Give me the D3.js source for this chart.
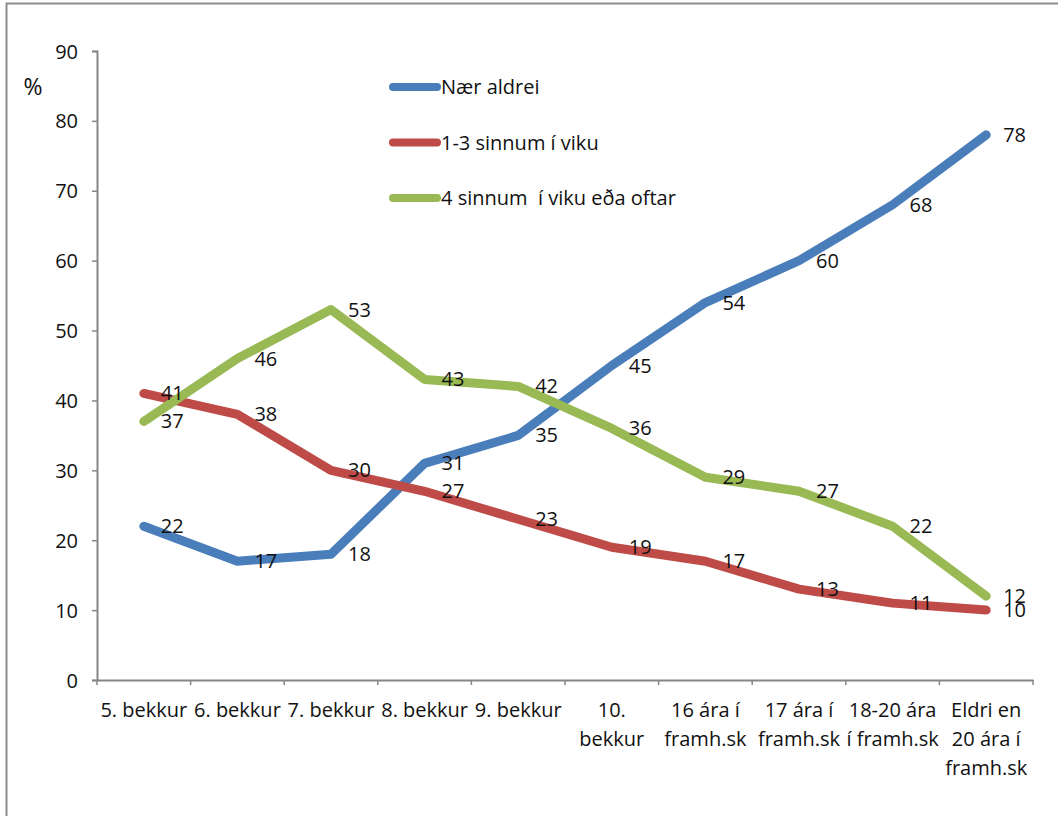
<!DOCTYPE html>
<html>
<head>
<meta charset="utf-8">
<script src="https://cdn.jsdelivr.net/npm/d3@7"></script>
<style>
  body { margin: 0; background: #fff; }
  svg text { font-family: "Open Sans", "DejaVu Sans", sans-serif; fill: #111; }
</style>
</head>
<body>
<div id="chart"></div>
<script>
// categories (x axis), "|" marks a line break in the tick label
var categories = ["5. bekkur", "6. bekkur", "7. bekkur", "8. bekkur", "9. bekkur",
    "10.|bekkur", "16 ára í|framh.sk", "17 ára í|framh.sk", "18-20 ára|í framh.sk", "Eldri en|20 ára í|framh.sk"];

var seriesNames = ["Nær aldrei", "1-3 sinnum í viku", "4 sinnum  í viku eða oftar"];
var naerAldrei = [22, 17, 18, 31, 35, 45, 54, 60, 68, 78];
var einnTilThrisvar = [41, 38, 30, 27, 23, 19, 17, 13, 11, 10];
var fjorumSinnum = [37, 46, 53, 43, 42, 36, 29, 27, 22, 12];
var yTicks = [0, 10, 20, 30, 40, 50, 60, 70, 80, 90];

var colors = ["#4a7ebb", "#be4b48", "#98b954"];
var seriesValues = [naerAldrei, einnTilThrisvar, fjorumSinnum];

var W = 1058, H = 816;
var svg = d3.select('#chart').append('svg').attr("width", W).attr("height", H),
    margin = { top: 51, right: 25, bottom: 136, left: 97 },
    width = 1033 - margin.left,
    height = 680 - margin.top,
    g = svg.append("g").attr("transform", "translate(" + margin.left + "," + margin.top + ")");

// outer frame (only left and top edges are visible in the picture)
svg.append("path").attr("d", "M6.5,816 V3.5 H1058").attr("fill", "none")
    .attr("stroke", "#8c8c8c").attr("stroke-width", 2);

var x = d3.scaleBand().domain(categories).range([0, width]);
var y = d3.scaleLinear().domain([0, 90]).range([height, 0]);

// y axis
var yAxis = g.append("g")
    .call(d3.axisLeft(y).tickValues(yTicks).tickSize(5).tickPadding(14));
yAxis.selectAll("text").attr("font-size", "20px").attr("dy", "0.35em");

// x axis
var xAxis = g.append("g")
    .attr("transform", "translate(0," + height + ")")
    .call(d3.axisBottom(x).tickSize(0).tickFormat(""));
xAxis.selectAll(".tick").remove();
xAxis.selectAll(".xtick")
    .data(d3.range(categories.length + 1))
    .enter().append("line")
    .attr("x1", function (i) { return i * x.step(); })
    .attr("x2", function (i) { return i * x.step(); })
    .attr("y1", 0).attr("y2", 5);

[yAxis, xAxis].forEach(function (ax) {
    ax.select(".domain").attr("stroke", "#868686").attr("stroke-width", 2);
    ax.selectAll("line").attr("stroke", "#868686").attr("stroke-width", 1.5);
});

var xLabels = g.append("g").selectAll("text")
    .data(categories)
    .enter().append("text")
    .attr("text-anchor", "middle")
    .attr("font-size", "20px")
    .attr("transform", function (d) { return "translate(" + (x(d) + x.bandwidth() / 2) + "," + (height + 30) + ")"; });
xLabels.selectAll("tspan")
    .data(function (d) { return d.split("|"); })
    .enter().append("tspan")
    .attr("x", 0)
    .attr("y", function (d, i) { return i * 29; })
    .attr("dy", "0.35em")
    .text(function (d) { return d; });

// % label
svg.append("text").attr("x", 33).attr("y", 87).attr("dy", "0.35em")
    .attr("text-anchor", "middle").attr("font-size", "23px").text("%");

// lines
var line = d3.line()
    .x(function (d, i) { return x(categories[i]) + x.bandwidth() / 2; })
    .y(function (d) { return y(d); });

seriesValues.forEach(function (vals, s) {
    g.append("path")
        .datum(vals)
        .attr("fill", "none")
        .attr("stroke", colors[s])
        .attr("stroke-width", 9)
        .attr("stroke-linecap", "round")
        .attr("stroke-linejoin", "round")
        .attr("d", line);
});

// data labels (to the right of each point)
seriesValues.forEach(function (vals, s) {
    g.append("g").selectAll("text")
        .data(vals)
        .enter().append("text")
        .attr("font-size", "20px")
        .attr("x", function (d, i) { return x(categories[i]) + x.bandwidth() / 2 + 17; })
        .attr("y", function (d) { return y(d); })
        .attr("dy", "0.35em")
        .text(function (d) { return d; });
});

// legend
var legend = svg.append("g").selectAll("g")
    .data(seriesNames)
    .enter().append("g")
    .attr("transform", function (d, i) { return "translate(393," + (87 + i * 55.5) + ")"; });
legend.append("line")
    .attr("x1", 0).attr("x2", 44)
    .attr("stroke", function (d, i) { return colors[i]; })
    .attr("stroke-width", 8)
    .attr("stroke-linecap", "round");
legend.append("text")
    .attr("x", 48).attr("dy", "0.35em")
    .attr("font-size", "20px")
    .attr("xml:space", "preserve")
    .style("white-space", "pre")
    .text(function (d) { return d; });
</script>
</body>
</html>
